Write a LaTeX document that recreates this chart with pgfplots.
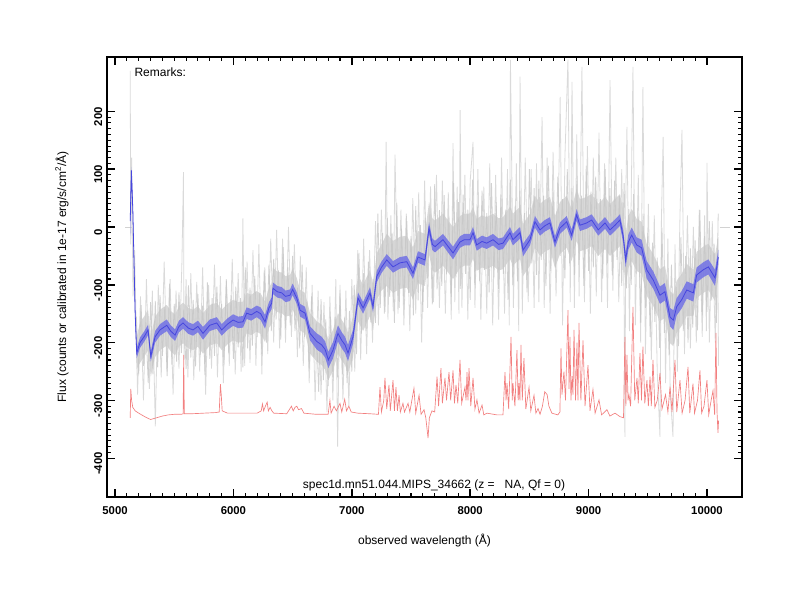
\documentclass[border=0pt]{standalone}
\usepackage{pgfplots}
\pgfplotsset{compat=1.18}
\usepackage{pgfplotstable}
\usepgfplotslibrary{fillbetween}
\usepackage{fontspec}
\setmainfont{Liberation Sans}

\definecolor{bline}{RGB}{70,70,222}
\definecolor{bband}{RGB}{118,118,228}
\definecolor{gcore}{RGB}{208,208,208}
\definecolor{gmid}{RGB}{198,198,198}
\definecolor{glight}{RGB}{218,218,218}
\definecolor{rline}{RGB}{242,128,128}

\pgfplotstableread{
x y e g
5128 10 25 5
5138 98 6 5
5150 30 10 8
5170 -150 9 15
5183 -218 9 28
5211 -200 9 35
5245 -190 9 35
5279 -178 9 35
5302 -224 9 35
5338 -190 10 35
5380 -178 10 35
5437 -170 10 35
5470 -180 10 35
5507 -187 10 35
5540 -172 10 35
5574 -166 10 35
5620 -175 10 35
5659 -178 10 35
5700 -172 10 35
5743 -184 11 35
5800 -170 10 35
5859 -166 10 35
5901 -178 10 35
5950 -168 10 35
5997 -161 10 35
6040 -165 10 35
6081 -164 10 35
6112 -149 10 35
6150 -152 10 35
6197 -146 10 35
6230 -150 11 35
6267 -164 12 35
6300 -140 10 35
6323 -132 10 35
6334 -106 10 35
6370 -112 10 35
6408 -114 10 35
6440 -120 10 35
6478 -118 10 35
6500 -108 10 35
6535 -123 10 35
6563 -144 11 35
6605 -149 11 35
6647 -184 12 35
6704 -198 14 35
6746 -204 14 35
6775 -212 14 35
6802 -230 14 35
6841 -213 14 35
6883 -184 14 35
6915 -196 14 35
6943 -204 14 35
6968 -218 14 35
7010 -190 12 35
7052 -123 10 40
7095 -140 10 40
7154 -114 10 40
7179 -138 10 40
7210 -86 10 40
7250 -70 10 40
7295 -57 10 45
7348 -69 10 45
7407 -62 10 45
7464 -60 10 45
7517 -80 10 45
7559 -52 10 45
7618 -57 10 45
7652 -2 10 45
7680 -30 10 45
7703 -34 10 45
7770 -22 10 45
7855 -45 11 45
7914 -26 10 45
7950 -22 10 45
7998 -22 10 45
8024 -10 10 45
8055 -31 10 45
8100 -25 10 45
8139 -28 10 45
8193 -22 10 45
8240 -30 10 45
8277 -28 10 45
8336 -10 10 45
8361 -22 10 45
8421 -10 10 45
8446 -40 11 45
8505 -22 10 45
8547 9 10 45
8590 -5 10 45
8630 2 10 45
8674 7 10 45
8716 -26 10 45
8758 -2 10 45
8815 9 10 45
8857 -14 10 45
8899 21 10 45
8927 3 10 45
8984 7 10 45
9026 12 10 45
9082 -5 10 45
9139 7 10 45
9181 -5 10 45
9223 3 10 45
9265 12 10 45
9293 -17 11 45
9313 -57 13 45
9336 -26 13 45
9364 -14 13 45
9406 -31 13 45
9448 -36 14 45
9491 -74 15 45
9547 -92 15 45
9603 -118 15 45
9645 -112 15 45
9688 -156 16 45
9716 -161 17 45
9744 -138 15 45
9786 -126 15 45
9829 -109 15 45
9885 -114 15 40
9913 -83 13 40
9969 -74 13 40
10012 -69 13 40
10068 -88 14 40
10096 -52 13 35
}\bluetab

\pgfplotstableread{
x y
5128 270
5133 -30
5140 120
5152 -120
5165 -40
5190 -290
5215 -120
5240 -300
5265 -90
5290 -280
5315 -110
5340 -345
5365 -100
5390 -260
5415 -60
5440 -250
5465 -90
5490 -290
5515 -110
5540 -245
5565 -60
5578 95
5583 -230
5600 -90
5615 -260
5640 -80
5665 -265
5690 -95
5715 -250
5740 -70
5765 -290
5790 -100
5815 -245
5840 -65
5865 -260
5890 -85
5915 -270
5940 -90
5965 -240
5990 -55
6015 -255
6040 -80
6065 -250
6080 15
6095 -240
6115 -60
6140 -235
6165 -40
6190 -240
6215 -30
6240 -255
6265 -70
6290 -220
6315 -20
6340 -200
6365 -5
6390 -210
6415 -20
6440 -200
6465 0
6490 -190
6515 -30
6540 -225
6565 -50
6590 -240
6615 -70
6640 -270
6665 -100
6690 -300
6715 -110
6740 -290
6765 -130
6790 -320
6815 -120
6840 -300
6865 -90
6880 -380
6900 -100
6925 -300
6950 -110
6975 -310
7000 -90
7025 -250
7050 -40
7075 -230
7100 -20
7125 -220
7150 -40
7175 -200
7200 10
7225 -170
7250 30
7275 -150
7290 147
7305 -160
7330 20
7350 -145
7365 125
7390 -150
7415 30
7440 -170
7465 10
7490 -180
7515 50
7540 -150
7565 60
7590 -200
7615 80
7640 -140
7665 70
7690 -130
7715 90
7740 -140
7765 80
7790 -150
7815 60
7840 -160
7855 145
7870 -130
7890 70
7905 -150
7915 202
7930 -140
7955 90
7980 -160
8000 80
8024 147
8040 -140
8065 100
8090 -160
8115 70
8140 -150
8165 110
8190 -170
8215 90
8240 -160
8265 120
8290 -150
8315 100
8330 -170
8340 289
8365 -140
8390 110
8410 -180
8421 260
8440 -150
8465 120
8490 -130
8515 100
8540 -140
8560 110
8580 -130
8607 190
8625 -140
8650 120
8675 -150
8700 130
8725 -120
8750 100
8760 225
8780 -170
8800 120
8826 290
8845 -130
8860 251
8880 -140
8900 160
8920 -120
8944 277
8965 -130
8990 140
9015 -150
9040 120
9065 -120
9088 163
9110 -130
9135 110
9160 -140
9181 254
9205 -110
9230 120
9255 -130
9280 100
9300 -120
9307 -363
9315 60
9324 173
9345 -180
9375 277
9395 -170
9420 90
9440 -200
9459 242
9480 -220
9505 40
9530 -230
9555 20
9580 -250
9603 -363
9615 10
9630 156
9650 -270
9670 -20
9690 -290
9713 -363
9730 -30
9750 -250
9770 0
9789 168
9810 -220
9835 20
9860 -210
9885 0
9910 -200
9935 30
9960 -190
9980 20
9995 -180
10000 111
10020 -200
10045 10
10070 -200
10090 -20
10098 -240
}\graytab

\pgfplotstableread{
x y
5180 -155
5200 -255
5220 -135
5240 -240
5260 -165
5280 -270
5300 -130
5320 -255
5340 -128
5360 -243
5380 -118
5400 -223
5420 -138
5440 -258
5460 -98
5480 -238
5500 -133
5520 -233
5540 -113
5560 -218
5580 -143
5600 -246
5620 -101
5640 -226
5660 -126
5680 -241
5700 -116
5720 -221
5740 -136
5760 -256
5780 -96
5800 -228
5820 -123
5840 -223
5860 -103
5880 -208
5900 -133
5920 -238
5940 -93
5960 -218
5980 -118
6000 -228
6020 -103
6040 -208
6060 -123
6080 -243
6100 -70
6120 -210
6140 -105
6160 -205
6180 -85
6200 -190
6220 -115
6240 -220
6260 -75
6280 -200
6300 -65
6320 -180
6340 -55
6360 -160
6380 -75
6400 -195
6420 -35
6440 -175
6460 -70
6480 -170
6500 -50
6520 -180
6540 -105
6560 -210
6580 -65
6600 -190
6620 -130
6640 -245
6660 -120
6680 -225
6700 -165
6720 -285
6740 -125
6760 -265
6780 -160
6800 -275
6820 -155
6840 -260
6860 -155
6880 -260
6900 -115
6920 -255
6940 -155
6960 -270
6980 -145
7000 -250
7020 -100
7040 -220
7060 -45
7080 -185
7100 -80
7120 -180
7140 -60
7160 -165
7180 -90
7200 -166
7220 23
7240 -140
7260 -10
7280 -147
7300 16
7320 -121
7340 -10
7360 -166
7380 42
7400 -140
7420 -3
7440 -134
7460 23
7480 -114
7500 -16
7520 -153
7540 36
7560 -127
7580 3
7600 -147
7620 16
7640 -89
7660 22
7680 -134
7700 74
7720 -108
7740 29
7760 -102
7780 55
7800 -82
7820 16
7840 -121
7860 76
7880 -87
7900 43
7920 -107
7940 56
7960 -81
7980 30
8000 -126
8020 82
8040 -100
8060 37
8080 -94
8100 63
8120 -74
8140 24
8160 -113
8180 76
8200 -87
8220 43
8240 -107
8260 56
8280 -81
8300 30
8320 -126
8340 82
8360 -100
8380 37
8400 -94
8420 63
8440 -74
8460 24
8480 -113
8500 100
8520 -63
8540 67
8560 -83
8580 80
8600 -57
8620 54
8640 -102
8660 106
8680 -76
8700 61
8720 -70
8740 87
8760 -50
8780 48
8800 -89
8820 100
8840 -63
8860 67
8880 -83
8900 80
8920 -57
8940 54
8960 -102
8980 106
9000 -76
9020 61
9040 -70
9060 87
9080 -50
9100 48
9120 -89
9140 100
9160 -63
9180 67
9200 -83
9220 80
9240 -57
9260 54
9280 -102
9300 76
9320 -106
9340 31
9360 -100
9380 57
9400 -80
9420 18
9440 -166
9460 23
9480 -140
9500 -10
9520 -190
9540 -27
9560 -164
9580 -53
9600 -209
9620 -1
9640 -183
9660 -91
9680 -222
9700 -65
9720 -202
9740 -104
9760 -206
9780 -17
9800 -180
9820 -50
9840 -200
9860 -37
9880 -174
9900 -23
9920 -179
9940 29
9960 -153
9980 -16
10000 -147
10020 10
10040 -127
10060 -29
10080 -166
10095 23
}\graytabb

\pgfplotstableread{
x y
5128 -330
5133 -280
5140 -300
5150 -312
5170 -318
5200 -322
5250 -328
5300 -333
5350 -330
5400 -327
5450 -325
5500 -324
5560 -324
5575 -323
5580 -221
5585 -323
5650 -323
5750 -322
5850 -321
5880 -320
5890 -272
5897 -290
5905 -318
5950 -322
6000 -322
6100 -322
6200 -322
6235 -318
6245 -306
6255 -318
6270 -310
6285 -303
6295 -318
6310 -312
6325 -318
6340 -322
6450 -323
6475 -315
6490 -310
6505 -318
6520 -312
6535 -310
6550 -316
6575 -314
6595 -322
6700 -324
6800 -324
6815 -300
6825 -322
6850 -310
6870 -318
6900 -305
6915 -320
6940 -298
6955 -318
6975 -310
6995 -320
7050 -322
7150 -323
7225 -324
7238 -277
7250 -320
7270 -300
7280 -261
7295 -315
7314 -273
7325 -318
7348 -265
7360 -318
7373 -277
7385 -318
7399 -291
7410 -320
7432 -305
7445 -320
7475 -305
7490 -320
7525 -279
7540 -322
7568 -291
7585 -324
7610 -316
7625 -330
7644 -365
7655 -330
7677 -318
7700 -320
7720 -259
7733 -310
7753 -244
7765 -305
7787 -261
7800 -300
7821 -251
7835 -300
7855 -248
7867 -305
7880 -273
7895 -305
7914 -230
7928 -305
7956 -277
7965 -300
7973 -251
7981 -300
7990 -244
8005 -310
8024 -261
8040 -315
8057 -299
8075 -322
8100 -308
8115 -325
8142 -322
8226 -325
8277 -325
8294 -251
8303 -300
8311 -270
8325 -315
8345 -190
8355 -300
8361 -270
8378 -310
8395 -213
8405 -300
8412 -270
8420 -300
8429 -204
8440 -300
8454 -227
8470 -315
8497 -277
8512 -318
8539 -291
8555 -322
8573 -314
8590 -324
8610 -310
8630 -285
8650 -290
8665 -310
8690 -322
8740 -325
8758 -320
8767 -210
8775 -290
8792 -250
8805 -300
8826 -144
8835 -280
8843 -190
8851 -300
8860 -258
8868 -290
8877 -178
8890 -300
8902 -200
8910 -300
8919 -166
8935 -300
8953 -196
8970 -310
8995 -239
9012 -318
9037 -281
9055 -322
9088 -299
9110 -325
9155 -316
9180 -327
9223 -322
9265 -328
9295 -330
9307 -190
9315 -310
9324 -221
9333 -300
9341 -290
9355 -310
9375 -138
9390 -300
9409 -261
9420 -305
9434 -218
9447 -300
9459 -207
9475 -305
9493 -265
9505 -310
9519 -259
9530 -310
9544 -230
9560 -312
9580 -300
9603 -253
9620 -315
9650 -290
9670 -320
9688 -276
9705 -320
9730 -230
9745 -320
9772 -265
9790 -322
9815 -300
9840 -242
9855 -322
9882 -271
9895 -322
9920 -300
9941 -248
9955 -322
9975 -310
10000 -265
10015 -325
10035 -300
10051 -283
10065 -325
10076 -183
10085 -320
10093 -356
10098 -335
}\redtab

\begin{document}
\begin{tikzpicture}
\begin{axis}[
  at={(80.25pt,77.25pt)}, anchor=south west,
  width=476.25pt, height=330pt, scale only axis,
  xmin=4932, xmax=10296, ymin=-467, ymax=294,
  scaled x ticks=false, scaled y ticks=false,
  fill between/on layer=main,
  xtick={5000,6000,7000,8000,9000,10000},
  xticklabels={5000,6000,7000,8000,9000,10000},
  ytick={-400,-300,-200,-100,0,100,200},
  yticklabels={-400,-300,-200,-100,0,100,200},
  minor x tick num=9, minor y tick num=9,
  tick align=inside, tick pos=both,
  xticklabel pos=bottom, yticklabel pos=left,
  major tick length=6pt, minor tick length=3pt,
  major tick style={line width=1.1pt, black},
  minor tick style={line width=0.8pt, black},
  axis line style={line width=1.5pt},
  tick label style={font=\fontsize{8.5}{10}\selectfont\bfseries},
  xticklabel style={yshift=-4pt},
  yticklabel style={rotate=90, anchor=south, xshift=-4pt},
  label style={font=\fontsize{9}{11}\selectfont},
  xlabel={observed wavelength (Å)},
  ylabel={Flux (counts or calibrated in 1e-17 erg/s/cm\textsuperscript{2}/Å)},
  xlabel style={at={(axis description cs:0.5,-0.098)}, anchor=center},
  ylabel style={at={(axis description cs:-0.071,0.5)}, anchor=center},
  clip=true,
]
\addplot[glight, line width=0.6pt] table[x=x,y=y] {\graytab};
\addplot[name path=gu, draw=none, forget plot] table[x=x, y expr=\thisrow{y}+\thisrow{g}] {\bluetab};
\addplot[name path=gl, draw=none, forget plot] table[x=x, y expr=\thisrow{y}-\thisrow{g}] {\bluetab};
\addplot[fill=gcore, draw=none, fill opacity=0.8] fill between[of=gu and gl];
\addplot[gmid, line width=0.6pt, opacity=0.8] table[x=x,y=y] {\graytabb};
\addplot[gray!35, line width=0.5pt] coordinates {(5085,0) (5143,0)};
\addplot[gray!35, line width=0.5pt] coordinates {(10110,0) (10195,0)};
\addplot[rline, line width=0.5pt] table[x=x,y=y] {\redtab};
\addplot[name path=bu, draw=none, forget plot] table[x=x, y expr=\thisrow{y}+\thisrow{e}] {\bluetab};
\addplot[name path=bl, draw=none, forget plot] table[x=x, y expr=\thisrow{y}-\thisrow{e}] {\bluetab};
\addplot[fill=bband, draw=none, fill opacity=0.9] fill between[of=bu and bl];
\addplot[bline, line width=0.6pt] table[x=x,y=y] {\bluetab};
\node[anchor=west, font=\fontsize{9}{11}\selectfont] at (rel axis cs:0.036,0.966) {Remarks:};
\node[font=\fontsize{9}{11}\selectfont] at (rel axis cs:0.515,0.027) {spec1d.mn51.044.MIPS\_34662 (z =\ \ \ NA, Qf = 0)};
\end{axis}
\pgfresetboundingbox
\path[use as bounding box] (0pt,0pt) rectangle (600pt,450pt);
\end{tikzpicture}
\end{document}
